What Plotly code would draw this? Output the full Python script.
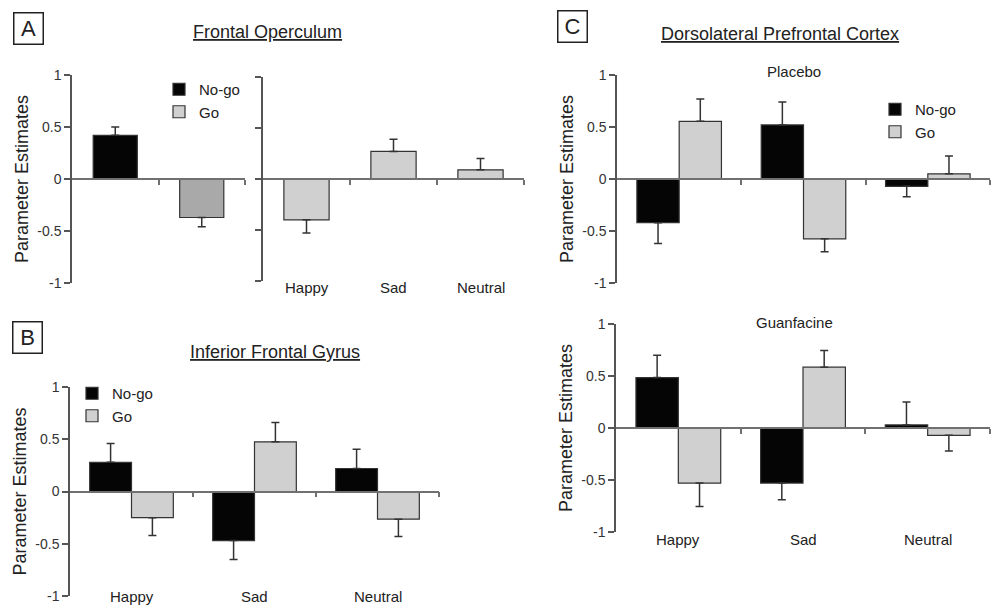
import plotly.graph_objects as go

# ---------------- data ----------------
conditions = ["No-go", "Go"]
emotions = ["Happy", "Sad", "Neutral"]

fo_cond_vals = [0.42, -0.37]
fo_cond_err = [0.08, 0.09]

fo_emo_vals = [-0.40, 0.27, 0.09]
fo_emo_err = [0.13, 0.12, 0.11]

ifg_nogo_vals = [0.28, -0.47, 0.22]
ifg_nogo_err = [0.18, 0.18, 0.185]
ifg_go_vals = [-0.25, 0.475, -0.265]
ifg_go_err = [0.17, 0.185, 0.165]

dl_plc_nogo_vals = [-0.42, 0.52, -0.07]
dl_plc_nogo_err = [0.20, 0.22, 0.10]
dl_plc_go_vals = [0.555, -0.575, 0.05]
dl_plc_go_err = [0.215, 0.125, 0.17]

dl_gua_nogo_vals = [0.485, -0.53, 0.03]
dl_gua_nogo_err = [0.215, 0.16, 0.22]
dl_gua_go_vals = [-0.53, 0.585, -0.07]
dl_gua_go_err = [0.225, 0.16, 0.15]

y_ticks = [-1, -0.5, 0, 0.5, 1]
y_ticktext = ["-1", "-0.5", "0", "0.5", "1"]

# ---------------- style ----------------
W, H = 991, 605
FONT = "Liberation Sans, Arial, sans-serif"
BLACK = "#050505"
LIGHT = "#d0d0d0"
MID = "#a9a9a9"
EDGE = "#333333"
AX = "#555555"


def px_x(p):
    return p / W


def px_y(p):
    return 1 - p / H


def one_sided(vals, errs):
    up = [e if v >= 0 else 0 for v, e in zip(vals, errs)]
    dn = [e if v < 0 else 0 for v, e in zip(vals, errs)]
    return dict(type="data", symmetric=False, array=up, arrayminus=dn,
                color=EDGE, thickness=1.5, width=4)


fig = go.Figure()

# panel definitions: (x px domain, y px domain, n categories)
panels = {
    "1": ((72, 245), (75, 283), 2),
    "2": ((263, 524), (77, 281), 3),
    "3": ((70, 439), (387, 596), 3),
    "4": ((617, 990), (75, 283), 3),
    "5": ((616, 990), (324, 532), 3),
}


def ax(s):
    return ("x" if s == "1" else "x" + s), ("y" if s == "1" else "y" + s)


def bar(s, xs, vals, errs, color, name, width, offset, show, legend="legend"):
    xa, ya = ax(s)
    fig.add_trace(go.Bar(
        x=xs, y=vals, name=name, width=width, offset=offset,
        marker=dict(color=color, line=dict(color=EDGE, width=1.2)),
        error_y=one_sided(vals, errs), xaxis=xa, yaxis=ya,
        showlegend=show, legend=legend, hoverinfo="y"))


# Panel A left (conditions)
bar("1", [0], fo_cond_vals[:1], fo_cond_err[:1], BLACK, conditions[0], 0.51, -0.255, True, "legend")
bar("1", [1], fo_cond_vals[1:], fo_cond_err[1:], MID, conditions[1], 0.51, -0.255, False)
# Panel A right (emotions)
bar("2", list(range(3)), fo_emo_vals, fo_emo_err, LIGHT, conditions[1], 0.52, -0.26, True, "legend")
# Panel B
GW = 0.34
bar("3", list(range(3)), ifg_nogo_vals, ifg_nogo_err, BLACK, conditions[0], GW, -GW, True, "legend2")
bar("3", list(range(3)), ifg_go_vals, ifg_go_err, LIGHT, conditions[1], GW, 0, True, "legend2")
# Panel C placebo
bar("4", list(range(3)), dl_plc_nogo_vals, dl_plc_nogo_err, BLACK, conditions[0], GW, -GW, True, "legend3")
bar("4", list(range(3)), dl_plc_go_vals, dl_plc_go_err, LIGHT, conditions[1], GW, 0, True, "legend3")
# Panel C guanfacine
bar("5", list(range(3)), dl_gua_nogo_vals, dl_gua_nogo_err, BLACK, conditions[0], GW, -GW, False)
bar("5", list(range(3)), dl_gua_go_vals, dl_gua_go_err, LIGHT, conditions[1], GW, 0, False)

layout = dict(
    width=W, height=H, margin=dict(l=0, r=0, t=0, b=0, autoexpand=False),
    paper_bgcolor="white", plot_bgcolor="rgba(0,0,0,0)",
    barmode="overlay", font=dict(family=FONT, color="#222222"),
)

for s, ((x0, x1), (y0, y1), n) in panels.items():
    xname = "xaxis" if s == "1" else "xaxis" + s
    yname = "yaxis" if s == "1" else "yaxis" + s
    xa, ya = ax(s)
    ydom = [px_y(y1), px_y(y0)]
    layout[xname] = dict(
        domain=[px_x(x0), px_x(x1)], range=[-0.5, n - 0.5],
        anchor="free", position=(ydom[0] + ydom[1]) / 2,
        showline=True, linecolor="#707070", linewidth=1.5,
        ticks="outside", tickvals=[i + 0.5 for i in range(n)], ticklen=5,
        tickcolor="#707070", tickwidth=1.5, automargin=False,
        showticklabels=False, showgrid=False, zeroline=False, fixedrange=True)
    show_lbl = s != "2"
    layout[yname] = dict(
        domain=ydom, range=[-1, 1], anchor=xa, automargin=False,
        showline=True, linecolor=AX, linewidth=1.5,
        ticks="outside", ticklen=6, tickcolor=AX, tickwidth=1.5,
        tickvals=y_ticks, ticktext=y_ticktext, showticklabels=show_lbl,
        tickfont=dict(size=14, color="#333333"),
        showgrid=False, zeroline=False, fixedrange=True,
        title=dict(text="Parameter Estimates" if show_lbl else "",
                   font=dict(size=18, color="#222222"), standoff=4))

leg_common = dict(bgcolor="rgba(0,0,0,0)", font=dict(size=15, color="#222222"),
                  itemwidth=30, tracegroupgap=0, xanchor="left", yanchor="top")
layout["legend"] = dict(x=px_x(159), y=px_y(73), **leg_common)
layout["legend2"] = dict(x=px_x(72), y=px_y(377), **leg_common)
layout["legend3"] = dict(x=px_x(875), y=px_y(93), **leg_common)

fig.update_layout(**layout)

# category labels under the emotion panels
for s, dy in (("2", 7), ("3", 0), ("5", 7)):
    xa, ya = ax(s)
    for i, lab in enumerate(emotions):
        fig.add_annotation(x=i, y=-1, xref=xa, yref=ya, text=lab, showarrow=False,
                           yanchor="middle", yshift=-dy,
                           font=dict(size=15, color="#222222"))

# titles
titles = [
    ("<u>Frontal Operculum</u>", 267, 32, 18),
    ("<u>Inferior Frontal Gyrus</u>", 275, 352, 18),
    ("<u>Dorsolateral Prefrontal Cortex</u>", 780, 34, 18),
    ("Placebo", 794, 72, 15),
    ("Guanfacine", 794, 322, 15),
]
for t, x, y, sz in titles:
    fig.add_annotation(x=px_x(x), y=px_y(y), xref="paper", yref="paper", text=t,
                       showarrow=False, xanchor="center", yanchor="middle",
                       font=dict(size=sz, color="#222222"))

# panel letters
for t, x, y in (("A", 28, 29), ("B", 27.5, 337), ("C", 572, 26.5)):
    fig.add_annotation(x=px_x(x), y=px_y(y), xref="paper", yref="paper", text=t,
                       showarrow=False, xanchor="center", yanchor="middle",
                       bordercolor="#222222", borderwidth=1.5, borderpad=2,
                       width=24, height=26,
                       font=dict(size=22, color="#222222"))

fig.write_html("out.html", config={"displayModeBar": False},
               post_script="document.body.style.margin='0';document.body.style.overflow='hidden';")
